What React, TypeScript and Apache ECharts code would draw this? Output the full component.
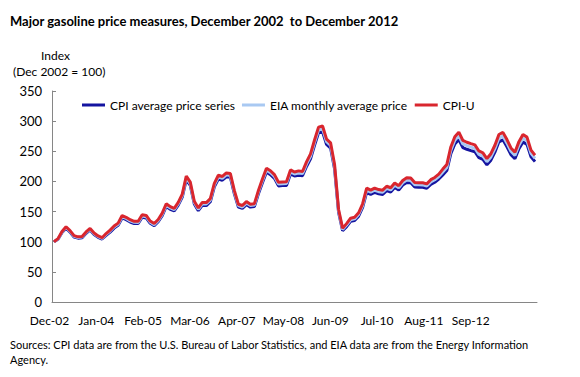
import React, { useEffect, useRef } from "react";
import * as echarts from "echarts";

const MONTH_NAMES = ["Jan", "Feb", "Mar", "Apr", "May", "Jun", "Jul", "Aug", "Sep", "Oct", "Nov", "Dec"];
const months: string[] = ["Dec-02"];
for (let y = 3; y <= 12; y++) {
  for (let m = 0; m < 12; m++) months.push(MONTH_NAMES[m] + "-" + String(y).padStart(2, "0"));
}

const tickLabels = ["Dec-02", "Jan-04", "Feb-05", "Mar-06", "Apr-07", "May-08", "Jun-09", "Jul-10", "Aug-11", "Sep-12"];

const cpiAvg = [
  100, 104.0, 115.3, 122.3, 116.0, 107.9, 105.9, 106.6, 113.9, 119.6, 112.1, 107.4, 104.5,
  110.4, 116.0, 122.6, 127.1, 139.4, 136.6, 132.7, 130.2, 130.1, 140.7, 139.5, 130.5,
  126.5, 133.1, 143.3, 158.4, 153.8, 151.0, 160.7, 173.9, 203.1, 193.2, 162.5, 151.6,
  160.2, 160.0, 166.3, 190.9, 204.0, 202.0, 207.7, 206.7, 179.3, 157.3, 155.2, 161.6,
  157.4, 158.2, 179.5, 198.0, 215.3, 211.3, 205.0, 192.6, 193.1, 193.4, 212.5, 209.1,
  210.3, 209.4, 224.8, 237.5, 259.8, 280.5, 282.3, 261.3, 255.3, 220.5, 148.4, 118.5,
  125.1, 133.7, 135.2, 142.4, 156.8, 181.8, 178.5, 181.8, 179.4, 178.5, 184.7, 182.3,
  189.9, 185.7, 193.9, 198.3, 197.7, 190.6, 190.5, 190.4, 188.6, 195.2, 198.7, 203.9,
  210.8, 218.0, 245.9, 262.1, 269.4, 256.2, 253.3, 251.1, 249.2, 239.5, 236.6, 227.5,
  235.2, 248.6, 265.7, 269.0, 257.5, 244.4, 237.6, 254.3, 265.5, 261.5, 240.9, 232.8,
];

const eiaAvg = [
  100, 104.6, 116.2, 123.6, 117.2, 109.0, 107.0, 107.7, 115.1, 120.8, 113.3, 108.5, 105.6,
  112.0, 117.7, 124.4, 129.0, 141.4, 138.6, 134.6, 132.1, 132.0, 142.8, 141.5, 132.4,
  128.3, 135.0, 145.4, 160.7, 156.0, 153.2, 163.0, 176.4, 206.0, 196.0, 164.9, 153.8,
  162.7, 162.5, 168.9, 193.9, 207.2, 205.1, 210.9, 209.9, 182.1, 159.8, 157.6, 164.1,
  159.9, 160.7, 182.3, 201.1, 218.7, 214.6, 208.2, 195.6, 196.1, 196.4, 215.8, 212.4,
  213.9, 213.0, 228.7, 241.6, 264.3, 285.3, 287.1, 265.8, 259.7, 224.3, 151.0, 120.5,
  127.6, 136.4, 137.9, 145.2, 159.9, 185.4, 182.0, 185.4, 183.0, 182.0, 188.4, 185.9,
  193.7, 189.4, 197.8, 202.2, 201.6, 194.4, 194.3, 194.2, 192.3, 199.1, 202.7, 208.0,
  215.7, 223.0, 251.6, 268.2, 275.6, 262.1, 259.2, 256.9, 255.0, 245.0, 242.1, 232.8,
  240.6, 254.3, 271.8, 275.2, 263.5, 250.0, 243.1, 260.2, 271.6, 267.5, 246.5, 238.2,
];

const cpiU = [
  100, 105.1, 117.1, 124.8, 118.4, 110.1, 108.1, 108.8, 116.2, 122.0, 114.4, 109.6, 106.6,
  113.6, 119.3, 126.1, 130.8, 143.4, 140.5, 136.5, 133.9, 133.8, 144.8, 143.5, 134.3,
  130.1, 136.9, 147.4, 163.0, 158.2, 155.3, 165.3, 178.9, 208.9, 198.8, 167.2, 156.0,
  165.2, 164.9, 171.4, 196.8, 210.3, 208.2, 214.1, 213.1, 184.8, 162.2, 160.0, 166.6,
  162.3, 163.1, 185.0, 204.1, 222.0, 217.8, 211.3, 198.6, 199.1, 199.4, 219.1, 215.6,
  217.5, 216.5, 232.5, 245.6, 268.7, 290.1, 291.9, 270.2, 264.0, 228.0, 153.5, 122.5,
  130.0, 139.0, 140.5, 148.0, 163.0, 189.0, 185.5, 189.0, 186.5, 185.5, 192.0, 189.5,
  197.4, 193.0, 201.6, 206.1, 205.5, 198.1, 198.0, 197.9, 196.0, 202.9, 206.6, 212.0,
  220.5, 228.0, 257.2, 274.2, 281.8, 268.0, 265.0, 262.7, 260.7, 250.5, 247.5, 238.0,
  246.0, 260.0, 277.9, 281.4, 269.4, 255.6, 248.5, 266.0, 277.7, 273.5, 252.0, 243.5,
];

const FONT = "Lato";
const AXIS_COLOR = "#868686";

export default function App() {
  const ref = useRef<HTMLDivElement>(null);
  useEffect(() => {
    if (!ref.current) return;
    const chart = echarts.init(ref.current, null, { renderer: "svg" });
    chart.setOption({
      animation: false,
      textStyle: { fontFamily: FONT },
      grid: [
        { left: 52, right: 43, top: 91, bottom: 75 },
        { left: 49.5, right: 109.3, top: 91, bottom: 75 },
      ],
      legend: {
        top: 94,
        left: 77,
        icon: "rect",
        itemWidth: 23,
        itemHeight: 3,
        itemGap: 7,
        textStyle: { fontFamily: FONT, fontSize: 12, color: "#000" },
        data: ["CPI average price series", "EIA monthly average price", "CPI-U"],
      },
      xAxis: [
        {
          type: "category",
          gridIndex: 0,
          data: months,
          boundaryGap: true,
          axisLine: { lineStyle: { color: AXIS_COLOR, width: 1 } },
          axisTick: { inside: true, interval: 12, length: 4, lineStyle: { color: AXIS_COLOR } },
          axisLabel: { show: false },
          splitLine: { show: false },
        },
        {
          type: "category",
          gridIndex: 1,
          data: tickLabels,
          boundaryGap: false,
          axisLine: { show: false },
          axisTick: { show: false },
          axisLabel: { interval: 0, margin: 12, fontSize: 12, color: "#000", fontFamily: FONT },
          splitLine: { show: false },
        },
      ],
      yAxis: [
        {
          type: "value",
          gridIndex: 0,
          min: 0,
          max: 350,
          interval: 50,
          axisLine: { show: true, lineStyle: { color: AXIS_COLOR, width: 1 } },
          axisTick: { show: true, inside: true, length: 4, lineStyle: { color: AXIS_COLOR } },
          axisLabel: { margin: 10, fontSize: 13, color: "#000", fontFamily: FONT },
          splitLine: { show: false },
        },
        { type: "value", gridIndex: 1, show: false, min: 0, max: 350 },
      ],
      series: [
        {
          name: "CPI average price series",
          type: "line",
          data: cpiAvg,
          symbol: "none",
          itemStyle: { color: "#1414a0" },
          lineStyle: { color: "#1414a0", width: 3 },
          z: 2,
        },
        {
          name: "EIA monthly average price",
          type: "line",
          data: eiaAvg,
          symbol: "none",
          itemStyle: { color: "#a9c9f2" },
          lineStyle: { color: "#a9c9f2", width: 3 },
          z: 3,
        },
        {
          name: "CPI-U",
          type: "line",
          data: cpiU,
          symbol: "none",
          itemStyle: { color: "#d9262e" },
          lineStyle: { color: "#d9262e", width: 3 },
          z: 4,
        },
      ],
      graphic: [
        {
          type: "text",
          left: 10,
          top: 14,
          style: {
            text: "Major gasoline price measures, December 2002  to December 2012",
            font: "bold 13px Lato",
            fill: "#000",
          },
        },
        {
          type: "text",
          left: 41,
          top: 49,
          style: { text: "Index", font: "12px Lato", fill: "#000" },
        },
        {
          type: "text",
          left: 13,
          top: 65,
          style: { text: "(Dec 2002 = 100)", font: "12px Lato", fill: "#000" },
        },
        {
          type: "text",
          left: 10,
          top: 339,
          style: {
            text: "Sources: CPI data are from the U.S. Bureau of Labor Statistics, and EIA data are from the Energy Information",
            font: "11px Lato",
            fill: "#000",
          },
        },
        {
          type: "text",
          left: 10,
          top: 354,
          style: { text: "Agency.", font: "11px Lato", fill: "#000" },
        },
      ],
    });
    return () => chart.dispose();
  }, []);
  return <div ref={ref} style={{ position: "absolute", left: 0, top: 0, width: 580, height: 377 }} />;
}
